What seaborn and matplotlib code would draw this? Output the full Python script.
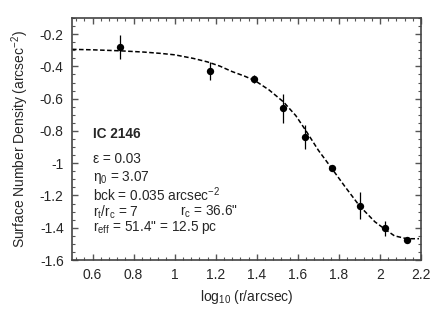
import numpy as np
import pandas as pd
import matplotlib
matplotlib.use("Agg")
import matplotlib.pyplot as plt
from matplotlib.ticker import MultipleLocator, FuncFormatter
import seaborn as sns

# Observed points
log_r = [0.734, 1.172, 1.386, 1.527, 1.636, 1.765, 1.902, 2.023, 2.132]
density = [-0.278, -0.427, -0.480, -0.660, -0.836, -1.032, -1.264, -1.404, -1.474]
err = [0.074, 0.056, 0.025, 0.090, 0.074, 0.010, 0.083, 0.045, 0.010]

# Model curve
model_x = [0.50, 0.60, 0.73, 0.85, 0.93, 1.00, 1.09, 1.16, 1.22, 1.28, 1.34, 1.39,
           1.46, 1.53, 1.59, 1.64, 1.70, 1.765, 1.83, 1.90, 1.975, 2.02, 2.07, 2.13, 2.19]
model_y = [-0.294, -0.297, -0.303, -0.311, -0.319, -0.328, -0.350, -0.372, -0.398,
           -0.432, -0.460, -0.487, -0.546, -0.620, -0.705, -0.800, -0.920, -1.032,
           -1.146, -1.264, -1.363, -1.405, -1.450, -1.468, -1.468]

sns.set_style("ticks")
plt.rcParams["font.family"] = ["Liberation Sans", "DejaVu Sans"]
plt.rcParams["mathtext.fontset"] = "custom"
plt.rcParams["mathtext.rm"] = "Liberation Sans"
plt.rcParams["mathtext.it"] = "Liberation Sans"
plt.rcParams["mathtext.bf"] = "Liberation Sans:bold"
plt.rcParams["mathtext.default"] = "regular"
plt.rcParams["axes.unicode_minus"] = False

fig = plt.figure(figsize=(4.47, 3.22), dpi=100)
ax = fig.add_axes([0.161, 0.1925, 0.781, 0.7515])

df_model = pd.DataFrame({"x": model_x, "y": model_y})
df_pts = pd.DataFrame({"x": log_r, "y": density, "e": err})

sns.lineplot(data=df_model, x="x", y="y", ax=ax, color="black", lw=1.1,
             linestyle=(0, (3, 1.6)), sort=True)
ax.vlines(df_pts["x"], df_pts["y"] - df_pts["e"], df_pts["y"] + df_pts["e"],
          color="black", lw=0.9)
sns.scatterplot(data=df_pts, x="x", y="y", ax=ax, color="black", s=28,
                edgecolor="black", linewidth=0, zorder=5)

ax.set_xlim(0.5, 2.2)
ax.set_ylim(-1.6, -0.1)
ax.xaxis.set_major_locator(MultipleLocator(0.2))
ax.xaxis.set_minor_locator(MultipleLocator(0.04))
ax.yaxis.set_major_locator(MultipleLocator(0.2))
ax.yaxis.set_minor_locator(MultipleLocator(0.05))
fmt = FuncFormatter(lambda v, p: "%g" % round(v, 3))
ax.xaxis.set_major_formatter(fmt)
ax.yaxis.set_major_formatter(fmt)
ax.tick_params(which="both", direction="in", top=True, right=True, color="#555555")
ax.tick_params(which="major", length=4, width=1, labelsize=10, pad=6)
ax.tick_params(which="minor", length=2, width=0.8)
for s in ax.spines.values():
    s.set_color("#444444")
    s.set_linewidth(1.2)

ax.set_xlabel("log$_{10}$ (r/arcsec)", fontsize=10, labelpad=4)
ax.set_ylabel("Surface Number Density (arcsec$^{-2}$)", fontsize=10, labelpad=6)

tx = 0.061
fs = 9.8
ax.text(tx, 0.52, "IC 2146", transform=ax.transAxes, fontsize=fs,
        fontweight="bold", va="center")
lines = ["ε = 0.03", "η$_0$ = 3.07", "bck = 0.035 arcsec$^{-2}$",
         "r$_t$/r$_c$ = 7", "r$_{eff}$ = 51.4\" = 12.5 pc"]
ys = [0.418, 0.340, 0.268, 0.198, 0.134]
for t, yy in zip(lines, ys):
    ax.text(tx, yy, t, transform=ax.transAxes, fontsize=fs, va="center")
ax.text(0.31, 0.198, "r$_c$ = 36.6\"", transform=ax.transAxes, fontsize=fs,
        va="center")

fig.savefig("out.png", dpi=100)
